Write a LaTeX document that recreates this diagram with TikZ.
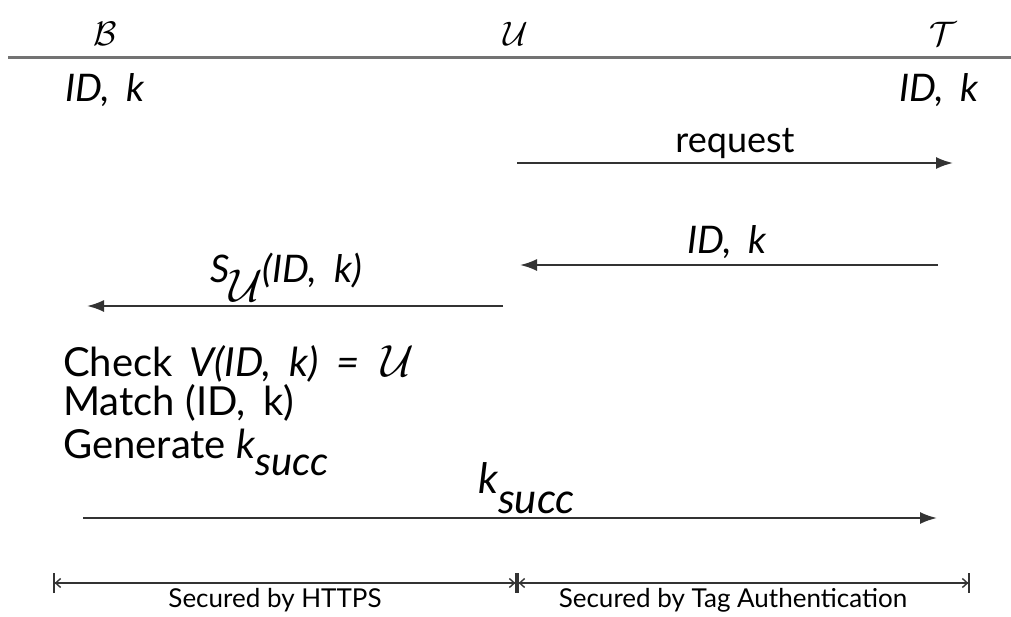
\RequirePackage{fix-cm}
\documentclass[tikz,border=0pt]{standalone}
\usepackage{fontspec}
\setmainfont{Lato}
\usetikzlibrary{arrows.meta}
\newcommand{\idk}{ID,\hspace{0.45em}k}
\begin{document}
\begin{tikzpicture}[x=1pt,y=-1pt,
  msg/.style={line width=2pt, draw=black!80, -{Latex[length=17pt,width=12pt]}},
  dimline/.style={line width=1.6pt, draw=black!80,
     {Bar[width=20pt,line width=1.6pt]Straight Barb[length=5pt,width=9pt,line width=1.4pt]}-{Straight Barb[length=5pt,width=9pt,line width=1.4pt]Bar[width=20pt,line width=1.6pt]}},
  hdr/.style={inner sep=0pt, font=\fontsize{34}{40}\selectfont},
  lbl/.style={inner sep=0pt, font=\fontsize{36}{43}\selectfont},
  ilbl/.style={inner sep=0pt, font=\fontsize{38}{45}\selectfont\itshape},
  big/.style={inner sep=0pt, font=\fontsize{40}{48}\selectfont},
  small/.style={inner sep=0pt, font=\fontsize{26}{31}\selectfont}
]
\useasboundingbox (0,0) rectangle (1011,616);
% header
\coordinate (hl) at (8,57);
\coordinate (hr) at (1011,57);
\draw[line width=3pt, black!55] (hl) -- (hr);
\node[hdr, anchor=base] (B) at (105,45) {$\mathcal{B}$};
\node[hdr, anchor=base] (U) at (516,45) {$\mathcal{U}$};
\node[hdr, anchor=base] (T) at (943,45) {$\mathcal{T}$};
\node[ilbl, anchor=base west] (Bk) at (65,101) {\idk};
\node[ilbl, anchor=base east] (Tk) at (979,101) {\idk};
% messages
\coordinate (req-s) at (517,163);
\coordinate (req-e) at (953,163);
\draw[msg] (req-s) -- (req-e);
\node[lbl, anchor=base] (reqL) at (735,152) {request};
\coordinate (idk-s) at (938,265);
\coordinate (idk-e) at (520,265);
\draw[msg] (idk-s) -- (idk-e);
\node[ilbl, anchor=base] (idkL) at (727,253) {\idk};
\coordinate (su-s) at (503,306);
\coordinate (su-e) at (87,306);
\draw[msg] (su-s) -- (su-e);
\node[ilbl, anchor=base west] (suL) at (210,282) {S\raisebox{-19pt}{\fontsize{46}{50}\selectfont$\mathcal{U}$}(\idk)};
\node[big, anchor=base west] (c1) at (63,376) {Check\hspace{0.15em} \itshape V(\idk)\hspace{0.45em}=\hspace{0.55em}{\fontsize{45}{50}\selectfont$\mathcal{U}$}};
\node[big, anchor=base west] (c2) at (63,415) {Match (\idk)};
\node[big, anchor=base west] (c3) at (63,458) {Generate \itshape k\raisebox{-17pt}{succ}};
\coordinate (ks-s) at (83,518);
\coordinate (ks-e) at (937,518);
\draw[msg] (ks-s) -- (ks-e);
\node[big, anchor=base west] (ksL) at (478,493) {\fontsize{42}{48}\selectfont\itshape k\raisebox{-20pt}{succ}};
% security spans
\coordinate (d1) at (53,583);
\coordinate (d2) at (517,583);
\coordinate (d3) at (970,583);
\draw[dimline] (d1) -- (d2);
\draw[dimline] (d2) -- (d3);
\node[small, anchor=base] (s1) at (275,607) {Secured by HTTPS};
\node[small, anchor=base] (s2) at (733,607) {Secured by Tag Authentication};
\end{tikzpicture}
\end{document}
